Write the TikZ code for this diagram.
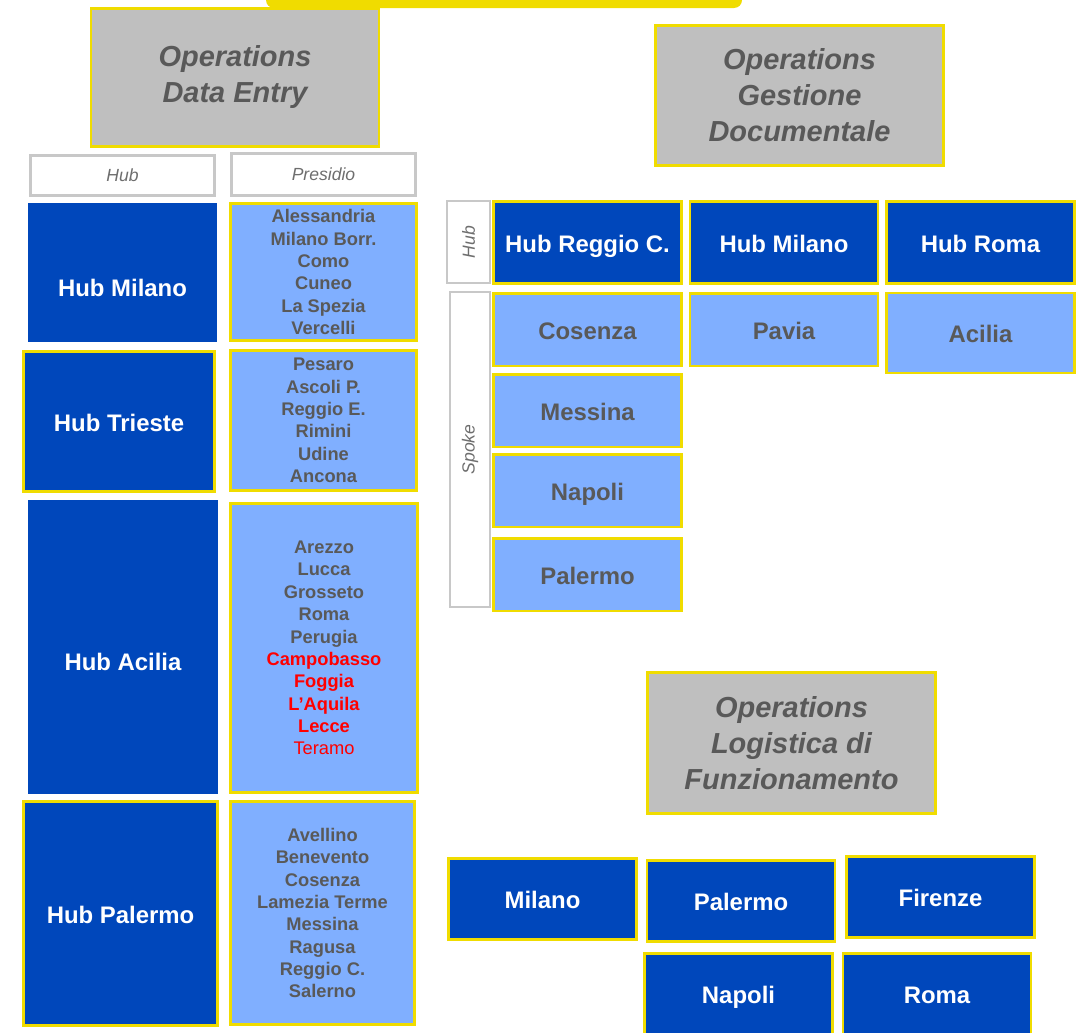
\documentclass[tikz,border=0pt]{standalone}
\usepackage{fontspec}
\setmainfont{Liberation Sans}
\definecolor{opyellow}{RGB}{240,220,0}
\definecolor{opgray}{RGB}{191,191,191}
\definecolor{optext}{RGB}{89,89,89}
\definecolor{hubblue}{RGB}{0,71,187}
\definecolor{spokeblue}{RGB}{128,175,255}
\definecolor{hdrgray}{RGB}{200,200,200}
\definecolor{hdrtext}{RGB}{110,110,110}

\begin{document}
\begin{tikzpicture}[x=0.025cm,y=-0.025cm]
\tikzstyle{every node}+=[inner sep=0pt]
\tikzstyle{ophead}=[draw=opyellow, line width=2pt, fill=opgray, text=optext, align=center, font=\bfseries\itshape\fontsize{20.6}{25.6}\selectfont]
\tikzstyle{colhead}=[draw=hdrgray, line width=1.6pt, fill=white, text=hdrtext, font=\itshape\fontsize{12.5}{15}\selectfont]
\tikzstyle{hubbox}=[fill=hubblue, text=white, font=\bfseries\fontsize{17}{20}\selectfont, text height=14pt, text depth=0pt]
\tikzstyle{hubyel}=[hubbox, draw=opyellow, line width=2pt]
\tikzstyle{spokebox}=[fill=spokeblue, draw=opyellow, line width=2pt, text=optext, font=\bfseries\fontsize{17}{20}\selectfont, text height=14pt, text depth=0pt]
\tikzstyle{presbox}=[fill=spokeblue, draw=opyellow, line width=2pt, text=optext, align=center, font=\bfseries\fontsize{13}{15.9}\selectfont]
\tikzstyle{lowered}=[text height=1.19cm, text depth=0pt]
\tikzstyle{cell}=[minimum width=4.7cm, minimum height=1.82cm]
\useasboundingbox (0,0) rectangle (1084,1032);
\fill [opyellow, rounded corners=0.2cm] (266,-12) rectangle (742,8);
% data entry
\node [ophead, minimum width=7.2cm, minimum height=3.45cm] (opde) at (235,77.5) {Operations\\Data Entry};
\node [colhead, minimum width=4.6cm, minimum height=1cm] (hdrhub) at (122.5,175.5) {Hub};
\node [colhead, minimum width=4.6cm, minimum height=1.05cm] (hdrpres) at (323.5,174.5) {Presidio};
\node [hubbox, lowered, minimum width=4.725cm, minimum height=3.475cm] (hmil) at (122.5,272.5) {Hub Milano};
\node [presbox, minimum width=4.65cm, minimum height=3.43cm] (pmil) at (323.5,272) {Alessandria\\Milano Borr.\\Como\\Cuneo\\La Spezia\\Vercelli};
\node [hubyel, minimum width=4.78cm, minimum height=3.5cm] (htri) at (119,421.5) {Hub Trieste};
\node [presbox, minimum width=4.65cm, minimum height=3.5cm] (ptri) at (323.5,420.5) {Pesaro\\Ascoli P.\\Reggio E.\\Rimini\\Udine\\Ancona};
\node [hubbox, lowered, minimum width=4.75cm, minimum height=7.35cm] (haci) at (123,647) {Hub Acilia};
\node [presbox, minimum width=4.68cm, minimum height=7.23cm] (paci) at (324,648) {Arezzo\\Lucca\\Grosseto\\Roma\\Perugia\\\textcolor{red}{Campobasso}\\\textcolor{red}{Foggia}\\\textcolor{red}{L’Aquila}\\\textcolor{red}{Lecce}\\\textcolor{red}{\mdseries Teramo}};
\node [hubyel, minimum width=4.85cm, minimum height=5.6cm] (hpal) at (120.5,913.5) {Hub Palermo};
\node [presbox, minimum width=4.6cm, minimum height=5.58cm] (ppal) at (322.5,913) {Avellino\\Benevento\\Cosenza\\Lamezia Terme\\Messina\\Ragusa\\Reggio C.\\Salerno};
% gestione documentale
\node [ophead, minimum width=7.2cm, minimum height=3.5cm] (opgd) at (799.5,95.5) {Operations\\Gestione\\Documentale};
\node [colhead, rotate=90, minimum width=2.05cm, minimum height=1.08cm] (sidehub) at (468.5,242) {Hub};
\node [colhead, rotate=90, minimum width=7.87cm, minimum height=1cm] (sidespoke) at (470,449.5) {Spoke};
\node [hubyel, cell, minimum height=2.05cm] (hreg) at (587.5,242.5) {Hub Reggio C.};
\node [hubyel, cell, minimum height=2.05cm] (hmil2) at (784,242.5) {Hub Milano};
\node [hubyel, cell, minimum height=2.05cm] (hrom) at (980.5,242.5) {Hub Roma};
\node [spokebox, cell] (scos) at (587.5,329.5) {Cosenza};
\node [spokebox, cell] (spav) at (784,329.5) {Pavia};
\node [spokebox, cell, minimum height=2cm] (saci) at (980.5,333) {Acilia};
\node [spokebox, cell] (smes) at (587.5,410.5) {Messina};
\node [spokebox, cell] (snap) at (587.5,490.5) {Napoli};
\node [spokebox, cell] (spal) at (587.5,574.5) {Palermo};
% logistica di funzionamento
\node [ophead, minimum width=7.2cm, minimum height=3.53cm] (oplf) at (791.5,743) {Operations\\Logistica di\\Funzionamento};
\node [hubyel, cell, minimum height=2.03cm] (lmil) at (542.5,899) {Milano};
\node [hubyel, cell, minimum height=2.03cm] (lpal) at (741,901) {Palermo};
\node [hubyel, cell, minimum height=2.03cm] (lfir) at (940.5,897) {Firenze};
\node [hubyel, cell, minimum height=2.03cm] (lnap) at (738.5,994) {Napoli};
\node [hubyel, cell, minimum height=2.03cm] (lrom) at (937,994) {Roma};
\end{tikzpicture}
\end{document}
